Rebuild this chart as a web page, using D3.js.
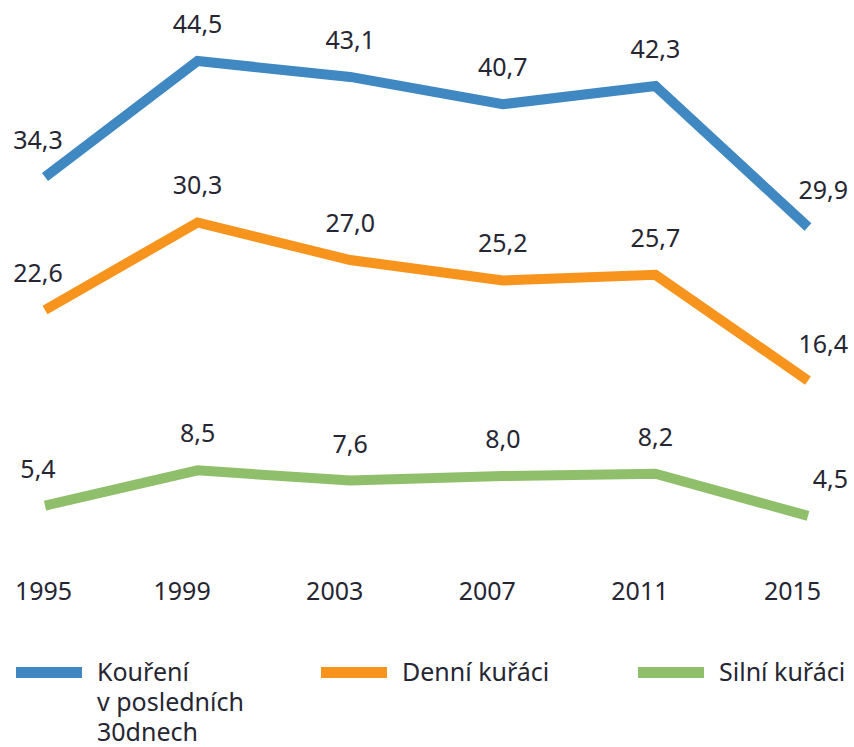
<!DOCTYPE html>
<html>

<head>
  <meta charset="utf-8" />
  <title>Kouření mládeže</title>
  <style>
    body {
      margin: 0;
      background: #fff;
    }

    svg text {
      font-family: "Noto Sans", sans-serif;
      font-size: 25px;
      fill: #262633;
    }

    .series path {
      fill: none;
      stroke-width: 10px;
      stroke-linejoin: miter;
    }
  </style>
</head>

<body>
  <svg></svg>

  <script src="https://d3js.org/d3.v7.min.js"></script>
  <script>
    var years = ["1995", "1999", "2003", "2007", "2011", "2015"];
    var smoking30 = [34.3, 44.5, 43.1, 40.7, 42.3, 29.9];
    var dailySmokers = [22.6, 30.3, 27.0, 25.2, 25.7, 16.4];
    var heavySmokers = [5.4, 8.5, 7.6, 8.0, 8.2, 4.5];
    var seriesNames = [["Kouření", "v posledních", "30dnech"], ["Denní kuřáci"], ["Silní kuřáci"]];
    var colors = ["#3f88c1", "#f7941d", "#90bf6b"];

    var width = 854,
      height = 747;
    var svg = d3.select("svg")
      .attr("width", width)
      .attr("height", height);

    var x = d3.scalePoint().domain(years).range([45, 808]);
    var y = d3.scaleLinear().domain([0, 50]).range([567, -1.5]);

    var series = [smoking30, dailySmokers, heavySmokers].map(function (vals, i) {
      return { name: seriesNames[i], color: colors[i], values: vals };
    });

    var line = d3.line()
      .x((d, i) => x(years[i]))
      .y(d => y(d));

    var fmt = v => d3.format(".1f")(v).replace(".", ",");

    var groups = svg.append("g")
      .attr("class", "series")
      .selectAll("g")
      .data(series)
      .enter()
      .append("g");

    groups.append("path")
      .attr("stroke", d => d.color)
      .attr("d", d => line(d.values));

    // value labels above each point; the end ones are nudged outward like the original
    groups.selectAll("text")
      .data(d => d.values)
      .enter()
      .append("text")
      .attr("x", (d, i) => x(years[i]) + (i === 0 ? -7 : i === years.length - 1 ? 40 : 0))
      .attr("y", d => y(d) - 28)
      .attr("text-anchor", (d, i) => i === years.length - 1 ? "end" : "middle")
      .text(d => fmt(d));

    // year axis, no line or ticks
    var axis = svg.append("g")
      .attr("transform", "translate(0,600)")
      .call(d3.axisBottom(x).tickSize(0).tickPadding(0));
    axis.select(".domain").remove();
    axis.selectAll("text")
      .attr("font-size", null)
      .attr("font-family", null)
      .attr("fill", null)
      .attr("dy", 0)
      .attr("dx", (d, i) => i === 0 ? -2 : -16);

    // legend
    var legendX = [16, 321, 638];
    var legend = svg.append("g")
      .selectAll("g")
      .data(series)
      .enter()
      .append("g")
      .attr("transform", (d, i) => "translate(" + legendX[i] + ",0)");

    legend.append("rect")
      .attr("x", 0)
      .attr("y", 667)
      .attr("width", 66)
      .attr("height", 11)
      .attr("fill", d => d.color);

    legend.append("text")
      .attr("x", 81)
      .attr("y", 681)
      .selectAll("tspan")
      .data(d => d.name)
      .enter()
      .append("tspan")
      .attr("x", 81)
      .attr("dy", (d, i) => i === 0 ? 0 : 30)
      .text(d => d);
  </script>
</body>

</html>
